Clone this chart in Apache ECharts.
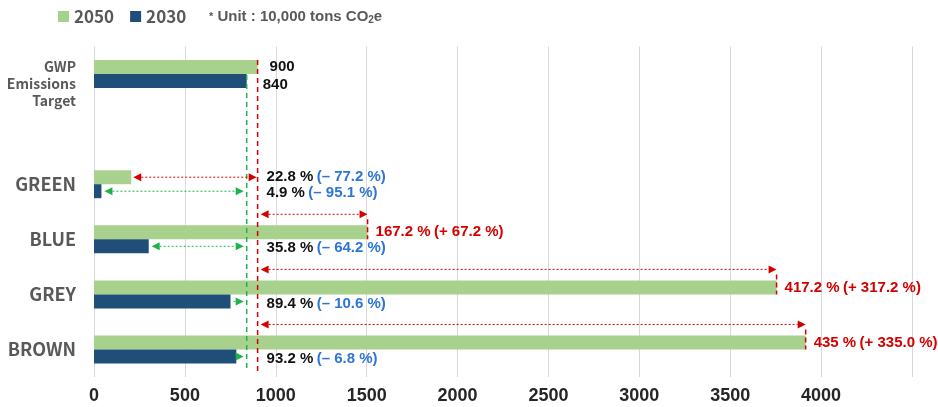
<!DOCTYPE html>
<html lang="en">
<head>
    <meta charset="UTF-8">
    <title>GWP emissions</title>
    <script src="https://cdn.jsdelivr.net/npm/echarts@6/dist/echarts.min.js"></script>
    <style>
        html, body { margin: 0; padding: 0; background: #fff; }
        #main { width: 938px; height: 407px; }
    </style>
</head>
<body>
<div id="main"></div>
<script type="text/javascript">
    // categories (second one is an empty spacer row)
    var categories = ['GWP\nEmissions\nTarget', '', 'GREEN', 'BLUE', 'GREY', 'BROWN'];
    // 10,000 tons CO2e
    var values2050 = [900, null, 205, 1505, 3755, 3915];
    var values2030 = [840, null, 41, 301, 751, 783];
    // text shown next to the bars
    var pct2050 = ['900', '', '22.8 %', '167.2 %', '417.2 %', '435 %'];
    var chg2050 = ['', '', '– 77.2 %', '+ 67.2 %', '+ 317.2 %', '+ 335.0 %'];
    var pct2030 = ['840', '', '4.9 %', '35.8 %', '89.4 %', '93.2 %'];
    var chg2030 = ['', '', '– 95.1 %', '– 64.2 %', '– 10.6 %', '– 6.8 %'];
    var xTicks = [0, 500, 1000, 1500, 2000, 2500, 3000, 3500, 4000];

    var target2050 = values2050[0];
    var target2030 = values2030[0];

    var GREEN = '#a9d18e', NAVY = '#1f4e79';
    var RED = '#d40000', LGREEN = '#1fb24a', BLUETXT = '#2e75d6';
    var FONT = 'Liberation Sans, Arial, sans-serif';

    var myChart = echarts.init(document.getElementById('main'));

    function arrowHead(x, y, dir, color) {
        // dir = 1 -> pointing right, -1 -> pointing left
        return {
            type: 'polygon',
            shape: { points: [[x, y], [x - dir * 8, y - 4], [x - dir * 8, y + 4]] },
            style: { fill: color }
        };
    }

    function arrow(x1, x2, y, color, both) {
        var kids = [];
        var dir = x2 > x1 ? 1 : -1;
        var s = both ? x1 + dir * 8 : x1;
        kids.push({
            type: 'line',
            shape: { x1: s, y1: y, x2: x2 - dir * 8, y2: y },
            style: { stroke: color, lineWidth: 1, lineDash: [2, 2] }
        });
        kids.push(arrowHead(x2, y, dir, color));
        if (both) kids.push(arrowHead(x1, y, -dir, color));
        return kids;
    }

    function label(x, y, a, b, colA, colB) {
        return {
            type: 'text',
            x: x, y: y,
            style: {
                text: '{a|' + a + '}' + (b ? ' {b|(' + b + ')}' : ''),
                verticalAlign: 'middle',
                rich: {
                    a: { fill: colA, font: 'bold 15px ' + FONT },
                    b: { fill: colB, font: 'bold 15px ' + FONT }
                }
            }
        };
    }

    function renderAnnot(params, api) {
        var i = api.value(0);
        var cs = params.coordSys;
        var c = api.coord([0, i]);
        var yc = c[1];
        var xT50 = api.coord([target2050, i])[0];
        var xT30 = api.coord([target2030, i])[0];
        var kids = [];

        if (i === 0) {
            // target lines
            kids.push({
                type: 'line',
                shape: { x1: xT50, y1: yc - 14, x2: xT50, y2: cs.y + cs.height - 6 },
                style: { stroke: RED, lineWidth: 1.5, lineDash: [5, 4] }
            });
            kids.push({
                type: 'line',
                shape: { x1: xT30, y1: yc + 1, x2: xT30, y2: cs.y + cs.height - 8 },
                style: { stroke: LGREEN, lineWidth: 1.5, lineDash: [5, 4] }
            });
            kids.push(label(xT50 + 12, yc - 7, pct2050[i], '', '#111', BLUETXT));
            kids.push(label(xT30 + 16, yc + 11, pct2030[i], '', '#111', BLUETXT));
            return { type: 'group', children: kids };
        }
        if (values2050[i] == null) return null;

        var x50 = api.coord([values2050[i], i])[0];
        var x30 = api.coord([values2030[i], i])[0];

        // 2050 bar vs target
        if (values2050[i] < target2050) {
            kids = kids.concat(arrow(x50 + 2, xT50 - 1, yc - 7, RED, true));
            kids.push(label(xT50 + 9, yc - 7, pct2050[i], chg2050[i], '#111', BLUETXT));
        } else {
            kids = kids.concat(arrow(xT50 + 3, x50, yc - 25, RED, true));
            kids.push({
                type: 'line',
                shape: { x1: x50, y1: yc - 20, x2: x50, y2: yc },
                style: { stroke: RED, lineWidth: 1.5, lineDash: [5, 3] }
            });
            kids.push(label(x50 + 8, yc - 7, pct2050[i], chg2050[i], RED, RED));
        }

        // 2030 bar vs target
        if (xT30 - x30 > 30) {
            kids = kids.concat(arrow(x30 + 3, xT30 - 3, yc + 7, LGREEN, true));
        } else {
            kids = kids.concat(arrow(x30 + 3, xT30 - 3, yc + 7, LGREEN, false));
        }
        kids.push(label(xT50 + 9, yc + 9, pct2030[i], chg2030[i], '#111', BLUETXT));

        return { type: 'group', children: kids };
    }

    var option = {
        animation: false,
        legend: {
            left: 53,
            top: 3,
            itemWidth: 11,
            itemHeight: 11,
            itemGap: 16,
            icon: 'rect',
            data: ['2050', '2030'],
            textStyle: { color: '#595959', fontSize: 17, fontWeight: 'bold', fontFamily: 'Noto Sans CJK KR' }
        },
        graphic: [{
            type: 'text',
            left: 209,
            top: 9,
            style: {
                text: '{s|*} Unit : 10,000 tons CO{sub|2}e',
                fill: '#595959',
                font: 'bold 15px ' + FONT,
                rich: {
                    s: { fill: '#595959', font: 'bold 11px ' + FONT },
                    sub: { fill: '#595959', font: 'bold 10px ' + FONT, padding: [8, 0, 0, 0] }
                }
            }
        }],
        grid: {
            left: 94,
            right: 26,
            top: 46.5,
            bottom: 30
        },
        xAxis: {
            type: 'value',
            min: 0,
            max: 4500,
            interval: 500,
            axisLine: { show: false },
            axisTick: { show: false },
            splitLine: { lineStyle: { color: '#d9d9d9' } },
            axisLabel: {
                margin: 10,
                color: '#262626',
                fontSize: 18,
                fontWeight: 'bold',
                fontFamily: FONT,
                formatter: function (v) {
                    return xTicks.indexOf(v) >= 0 ? String(v) : '';
                }
            }
        },
        yAxis: {
            type: 'category',
            inverse: true,
            data: categories,
            axisLine: { show: false },
            axisTick: { show: false },
            axisLabel: {
                margin: 18,
                color: '#595959',
                fontSize: 18,
                fontWeight: 'bold',
                fontFamily: 'Noto Sans CJK KR',
                formatter: function (v, idx) {
                    if (idx === 0) {
                        // blank first line pushes the three lines a little lower
                        return '{e| }\n{g|' + v.split('\n').join('}\n{g|') + '}';
                    }
                    return v;
                },
                rich: {
                    e: { fontSize: 1, lineHeight: 20 },
                    g: { fontSize: 14, lineHeight: 17, fontWeight: 'bold', color: '#595959', fontFamily: 'Noto Sans CJK KR' }
                }
            }
        },
        series: [
            {
                name: '2050',
                type: 'bar',
                barWidth: 14,
                barGap: '0%',
                itemStyle: { color: GREEN },
                data: values2050
            },
            {
                name: '2030',
                type: 'bar',
                barWidth: 14,
                barGap: '0%',
                itemStyle: { color: NAVY },
                data: values2030
            },
            {
                name: 'annot',
                type: 'custom',
                renderItem: renderAnnot,
                z: 5,
                silent: true,
                data: [[0], [1], [2], [3], [4], [5]]
            }
        ]
    };
    myChart.setOption(option);
</script>
</body>
</html>
